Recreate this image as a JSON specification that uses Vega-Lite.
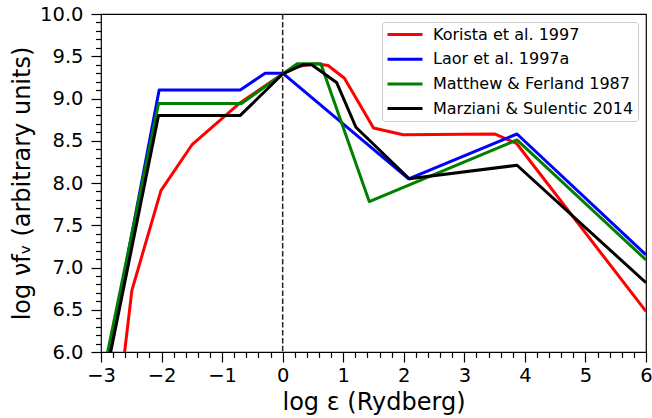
{
  "$schema": "https://vega.github.io/schema/vega-lite/v6.json",
  "width": 545,
  "height": 338,
  "autosize": {"type": "none"},
  "padding": {"left": 101, "top": 14, "right": 6, "bottom": 66},
  "background": "white",
  "config": {
    "font": "DejaVu Sans",
    "view": {"stroke": "black", "strokeWidth": 1.2},
    "axis": {"domain": false, "grid": false, "tickColor": "black", "tickWidth": 1.2, "labelColor": "black", "titleColor": "black", "labelFont": "DejaVu Sans", "titleFont": "DejaVu Sans", "titleFontWeight": "normal"}
  },
  "resolve": {"axis": {"x": "independent", "y": "independent"}},
  "datasets": {
    "sed": [
      {"model": "Korista et al. 1997", "x": -2.61, "y": 6.0},
      {"model": "Korista et al. 1997", "x": -2.49, "y": 6.73},
      {"model": "Korista et al. 1997", "x": -2.01, "y": 7.91},
      {"model": "Korista et al. 1997", "x": -1.5, "y": 8.45},
      {"model": "Korista et al. 1997", "x": -0.7, "y": 8.95},
      {"model": "Korista et al. 1997", "x": 0.0, "y": 9.29},
      {"model": "Korista et al. 1997", "x": 0.23, "y": 9.38},
      {"model": "Korista et al. 1997", "x": 0.56, "y": 9.41},
      {"model": "Korista et al. 1997", "x": 0.75, "y": 9.39},
      {"model": "Korista et al. 1997", "x": 1.02, "y": 9.24},
      {"model": "Korista et al. 1997", "x": 1.5, "y": 8.65},
      {"model": "Korista et al. 1997", "x": 1.99, "y": 8.57},
      {"model": "Korista et al. 1997", "x": 3.5, "y": 8.58},
      {"model": "Korista et al. 1997", "x": 3.86, "y": 8.47},
      {"model": "Korista et al. 1997", "x": 6.0, "y": 6.48},
      {"model": "Laor et al. 1997a", "x": -2.86, "y": 6.0},
      {"model": "Laor et al. 1997a", "x": -2.04, "y": 9.1},
      {"model": "Laor et al. 1997a", "x": -0.7, "y": 9.1},
      {"model": "Laor et al. 1997a", "x": -0.29, "y": 9.3},
      {"model": "Laor et al. 1997a", "x": 0.0, "y": 9.3},
      {"model": "Laor et al. 1997a", "x": 2.08, "y": 8.05},
      {"model": "Laor et al. 1997a", "x": 3.87, "y": 8.58},
      {"model": "Laor et al. 1997a", "x": 6.0, "y": 7.15},
      {"model": "Matthew & Ferland 1987", "x": -2.89, "y": 6.0},
      {"model": "Matthew & Ferland 1987", "x": -2.05, "y": 8.94},
      {"model": "Matthew & Ferland 1987", "x": -0.68, "y": 8.94},
      {"model": "Matthew & Ferland 1987", "x": 0.0, "y": 9.29},
      {"model": "Matthew & Ferland 1987", "x": 0.24, "y": 9.41},
      {"model": "Matthew & Ferland 1987", "x": 0.63, "y": 9.41},
      {"model": "Matthew & Ferland 1987", "x": 1.43, "y": 7.78},
      {"model": "Matthew & Ferland 1987", "x": 3.87, "y": 8.51},
      {"model": "Matthew & Ferland 1987", "x": 6.0, "y": 7.09},
      {"model": "Marziani & Sulentic 2014", "x": -2.84, "y": 6.0},
      {"model": "Marziani & Sulentic 2014", "x": -2.05, "y": 8.8},
      {"model": "Marziani & Sulentic 2014", "x": -0.7, "y": 8.8},
      {"model": "Marziani & Sulentic 2014", "x": 0.0, "y": 9.29},
      {"model": "Marziani & Sulentic 2014", "x": 0.34, "y": 9.4},
      {"model": "Marziani & Sulentic 2014", "x": 0.48, "y": 9.4},
      {"model": "Marziani & Sulentic 2014", "x": 0.89, "y": 9.19},
      {"model": "Marziani & Sulentic 2014", "x": 1.21, "y": 8.66},
      {"model": "Marziani & Sulentic 2014", "x": 2.09, "y": 8.05},
      {"model": "Marziani & Sulentic 2014", "x": 3.87, "y": 8.21},
      {"model": "Marziani & Sulentic 2014", "x": 6.0, "y": 6.82}
    ]
  },
  "layer": [
    {
      "data": {"name": "sed"},
      "mark": {"type": "line", "strokeWidth": 3, "clip": true, "strokeJoin": "round"},
      "encoding": {
        "x": {
          "field": "x", "type": "quantitative",
          "scale": {"domain": [-3, 6], "nice": false, "zero": false},
          "axis": {"orient": "bottom", "values": [-3, -2, -1, 0, 1, 2, 3, 4, 5, 6], "tickSize": 10, "labelFontSize": 19.5, "labelPadding": 4, "title": "log ε (Rydberg)", "titleFontSize": 24, "titlePadding": 6, "labelFlush": false}
        },
        "y": {
          "field": "y", "type": "quantitative",
          "scale": {"domain": [6, 10], "nice": false, "zero": false},
          "axis": {"orient": "left", "values": [6, 6.5, 7, 7.5, 8, 8.5, 9, 9.5, 10], "format": ".1f", "tickSize": 10, "labelFontSize": 19.5, "labelPadding": 8, "title": "log νfᵥ (arbitrary units)", "titleFontSize": 24, "titlePadding": 5, "labelFlush": false}
        },
        "color": {
          "field": "model", "type": "nominal",
          "scale": {"domain": ["Korista et al. 1997", "Laor et al. 1997a", "Matthew & Ferland 1987", "Marziani & Sulentic 2014"], "range": ["#ff0000", "#0000ff", "#008000", "#000000"]},
          "legend": {"title": null, "orient": "top-right", "offset": 8, "padding": 4, "strokeColor": "#cccccc", "fillColor": "white", "cornerRadius": 3, "symbolType": "M-1,0H4", "symbolSize": 196, "symbolStrokeWidth": 3, "labelFontSize": 16, "labelOffset": 30, "rowPadding": 7.7, "labelFont": "DejaVu Sans", "labelColor": "black", "labelLimit": 400}
        }
      }
    },
    {
      "data": {"values": [{}]},
      "mark": {"type": "rule", "strokeDash": [5.5, 2.4], "strokeWidth": 1.5, "color": "#222222"},
      "encoding": {"x": {"datum": 0, "type": "quantitative", "axis": null}}
    },
    {
      "data": {"name": "sed"},
      "mark": {"type": "point", "opacity": 0},
      "encoding": {
        "x": {
          "field": "x", "type": "quantitative",
          "axis": {"orient": "bottom", "values": [-2.8, -2.6, -2.4, -2.2, -1.8, -1.6, -1.4, -1.2, -0.8, -0.6, -0.4, -0.2, 0.2, 0.4, 0.6, 0.8, 1.2, 1.4, 1.6, 1.8, 2.2, 2.4, 2.6, 2.8, 3.2, 3.4, 3.6, 3.8, 4.2, 4.4, 4.6, 4.8, 5.2, 5.4, 5.6, 5.8], "tickSize": 5.5, "labels": false, "title": null}
        },
        "y": {
          "field": "y", "type": "quantitative",
          "axis": {"orient": "left", "values": [6.1, 6.2, 6.3, 6.4, 6.6, 6.7, 6.8, 6.9, 7.1, 7.2, 7.3, 7.4, 7.6, 7.7, 7.8, 7.9, 8.1, 8.2, 8.3, 8.4, 8.6, 8.7, 8.8, 8.9, 9.1, 9.2, 9.3, 9.4, 9.6, 9.7, 9.8, 9.9], "tickSize": 5.5, "labels": false, "title": null}
        }
      }
    }
  ]
}
